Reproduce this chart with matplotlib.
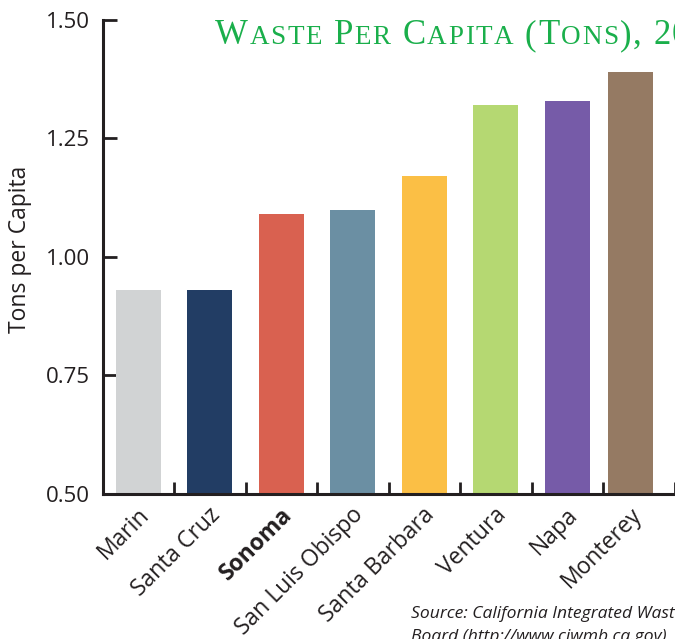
import numpy as np
import matplotlib
matplotlib.use("Agg")
import matplotlib.pyplot as plt
from matplotlib.offsetbox import TextArea, HPacker, AnnotationBbox

counties = ["Marin", "Santa Cruz", "Sonoma", "San Luis Obispo", "Santa Barbara",
            "Ventura", "Napa", "Monterey"]
tons = [0.93, 0.93, 1.09, 1.10, 1.17, 1.32, 1.33, 1.39]
colors = ["#d1d3d4", "#223d64", "#d96150", "#6b8fa3", "#fbbf45",
          "#b5d872", "#765ba8", "#957a63"]
yticks = [0.50, 0.75, 1.00, 1.25, 1.50]
title = "Waste Per Capita (Tons), 2006"
source_lines = ["Source: California Integrated Waste Management",
                "Board (http://www.ciwmb.ca.gov)"]

ink = "#231f20"
plt.rcParams["font.family"] = ["Open Sans", "DejaVu Sans"]

fig = plt.figure(figsize=(6.75, 6.39), dpi=100)
ax = fig.add_axes([102.5 / 675, 1 - 494 / 639, 572 / 675, 474 / 639])

x = np.arange(len(counties), dtype=float)
x[-1] -= 0.11  # monterey sits a bit left in the original
ax.bar(x, tons, width=0.63, color=colors, zorder=2)

ax.set_xlim(-0.5, len(counties) - 0.5)
ax.set_ylim(0.5, 1.5)
ax.set_yticks(yticks)
ax.set_yticklabels([f"{v:.2f}" for v in yticks])

# ticks sit on the category boundaries
ax.set_xticks(np.arange(len(counties)) + 0.5)
ax.set_xticklabels([])
ax.tick_params(axis="x", direction="in", length=8.5, width=2, color=ink)
ax.tick_params(axis="y", direction="in", length=10, width=2, color=ink,
               labelsize=16, labelcolor=ink, pad=9)

for s in ["top", "right"]:
    ax.spines[s].set_visible(False)
for s in ["left", "bottom"]:
    ax.spines[s].set_linewidth(2.2)
    ax.spines[s].set_color(ink)

for i, name in enumerate(counties):
    ax.text(x[i] + 0.16, 0.454, name, rotation=45, rotation_mode="anchor",
            ha="right", va="baseline", fontsize=16.5, color=ink,
            fontweight="bold" if name == "Sonoma" else "normal",
            clip_on=False)

fig.text(20 / 675, 1 - 249 / 639, "Tons per Capita", rotation=90,
         ha="center", va="center", fontsize=16.5, color=ink)

# small caps title, one box per letter so it can be spaced out
parts = []
for ch in title:
    big = not ch.islower()
    parts.append(TextArea(ch.upper(),
                          textprops=dict(fontsize=25 if big else 19.5, color="#1aaf4b",
                                         family=["Liberation Serif", "DejaVu Serif"])))
box = HPacker(children=parts, align="baseline", pad=0, sep=1.1)
ab = AnnotationBbox(box, (215, 639 - 52), xycoords="figure pixels",
                    box_alignment=(0, 0), frameon=False, pad=0)
fig.add_artist(ab)

for k, line in enumerate(source_lines):
    fig.text(411 / 675, 1 - (618 + 23 * k) / 639, line, ha="left", va="baseline",
             fontsize=12.6, style="italic", color=ink)

fig.savefig("out.png", dpi=100)
